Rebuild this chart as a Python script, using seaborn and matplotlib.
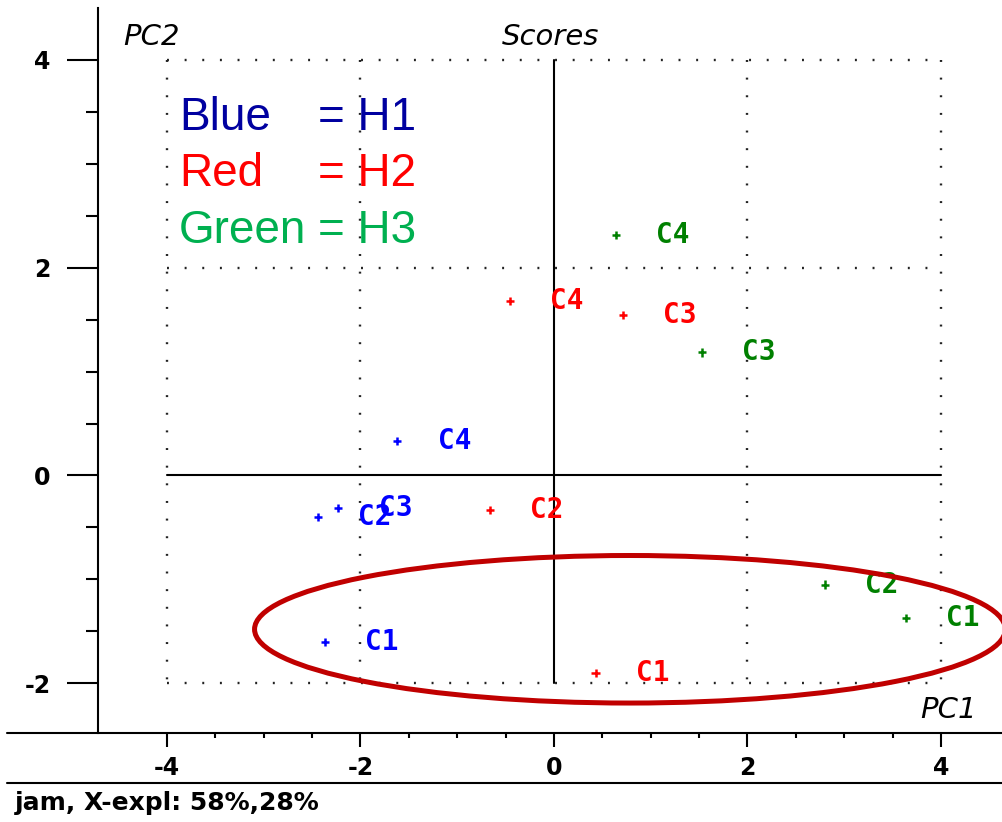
import numpy as np
import pandas as pd
import seaborn as sns
import matplotlib
matplotlib.use("Agg")
import matplotlib.pyplot as plt
from matplotlib.patches import Ellipse
from matplotlib.lines import Line2D
from matplotlib.ticker import FixedLocator

# ---------------- data ----------------
samples = ["C1", "C2", "C3", "C4"]
h1_pc1 = [-2.37, -2.44, -2.23, -1.62]
h1_pc2 = [-1.60, -0.40, -0.31, 0.33]
h2_pc1 = [0.43, -0.66, 0.71, -0.455]
h2_pc2 = [-1.90, -0.33, 1.545, 1.68]
h3_pc1 = [3.64, 2.80, 1.53, 0.64]
h3_pc2 = [-1.37, -1.05, 1.185, 2.315]
groups = ["H1", "H2", "H3"]
x_ticks = [-4, -2, 0, 2, 4]
y_ticks = [-2, 0, 2, 4]
x_tick_labels = ["-4", "-2", "0", "2", "4"]
y_tick_labels = ["-2", "0", "2", "4"]
legend_names = ["Blue", "Red", "Green"]
legend_values = ["= H1", "= H2", "= H3"]

df = pd.DataFrame({
    "PC1": h1_pc1 + h2_pc1 + h3_pc1,
    "PC2": h1_pc2 + h2_pc2 + h3_pc2,
    "group": [groups[0]] * 4 + [groups[1]] * 4 + [groups[2]] * 4,
    "sample": samples * 3,
})

marker_colors = {"H1": "#0000FF", "H2": "#FF0000", "H3": "#008000"}
legend_colors = ["#0000A0", "#FF0000", "#00B050"]

# ---------------- figure ----------------
sns.set_style("white")
plt.rcParams["axes.unicode_minus"] = False
plt.rcParams["lines.scale_dashes"] = False
plt.rcParams["font.family"] = ["DejaVu Sans"]
plt.rcParams["text.color"] = "black"

W, H = 1003, 822
fig = plt.figure(figsize=(W / 100, H / 100), dpi=100)
ax_left, ax_right, ax_bottom, ax_top = 98, 1003, 732.7, 8
ax = fig.add_axes([ax_left / W, 1 - ax_bottom / H,
                   (ax_right - ax_left) / W, (ax_bottom - ax_top) / H])

# pixel mapping: x0 at 554, 96.75 px/unit ; y0 at 475.5, 103.9 px/unit
ax.set_xlim((ax_left - 554) / 96.75, (ax_right - 554) / 96.75)
ax.set_ylim((475.5 - ax_bottom) / 103.9, (475.5 - ax_top) / 103.9)

# dotted grid box
dot_kw = dict(color="#222222", lw=1.7, dashes=(1.4, 11.3), zorder=1)
for yv in [-2, 2, 4]:
    ax.plot([-4, 4], [yv, yv], **dot_kw)
for xv in [-4, -2, 2, 4]:
    ax.plot([xv, xv], [4, -2], **dot_kw)
# solid origin lines
ax.plot([-4, 4], [0, 0], color="black", lw=1.5, zorder=1)
ax.plot([0, 0], [-2, 4], color="black", lw=1.5, zorder=1)

# scatter
sns.scatterplot(data=df, x="PC1", y="PC2", hue="group", palette=marker_colors,
                marker="+", s=36, linewidth=1.8, legend=False, ax=ax, zorder=3)

for _, r in df.iterrows():
    ax.annotate(r["sample"], (r["PC1"], r["PC2"]), xytext=(29, 0),
                textcoords="offset points", ha="left", va="center",
                fontsize=20, fontweight="bold", family="DejaVu Sans Mono",
                color=marker_colors[r["group"]], zorder=4)

# ellipse highlight
ell = Ellipse((0.785, -1.48), width=7.76, height=1.42, angle=0,
              fill=False, edgecolor="#C00000", lw=3.6, zorder=5)
ax.add_patch(ell)

# axes styling
for s in ["top", "right", "bottom"]:
    ax.spines[s].set_visible(False)
ax.spines["left"].set_color("black")
ax.spines["left"].set_linewidth(1.5)

ax.set_xticks(x_ticks)
ax.set_xticklabels(x_tick_labels)
ax.set_yticks(y_ticks)
ax.set_yticklabels(y_tick_labels)
ax.xaxis.set_minor_locator(FixedLocator([v for v in np.arange(-4, 4.01, 0.5) if v not in x_ticks]))
ax.yaxis.set_minor_locator(FixedLocator([v for v in np.arange(-2, 4.01, 0.5) if v not in y_ticks]))
ax.tick_params(axis="x", which="major", direction="out", length=10, width=1.5,
               colors="black", pad=7, labelsize=17, bottom=True)
ax.tick_params(axis="x", which="minor", direction="out", length=3.6, width=1.5,
               colors="black", bottom=True)
ax.tick_params(axis="y", which="major", direction="out", length=22, width=1.5,
               colors="black", pad=12, labelsize=17, left=True)
ax.tick_params(axis="y", which="minor", direction="out", length=8.6, width=1.5,
               colors="black", left=True)
for lab in ax.get_xticklabels() + ax.get_yticklabels():
    lab.set_fontweight("bold")
ax.set_xlabel("")
ax.set_ylabel("")

# figure-wide horizontal lines (bottom axis line and separator)
fig.add_artist(Line2D([7 / W, 1], [1 - ax_bottom / H] * 2, color="black", lw=1.5))
fig.add_artist(Line2D([7 / W, 1], [1 - 783 / H] * 2, color="black", lw=1.5))

# italic labels
def fpx(x, y):
    return x / W, 1 - y / H

fig.text(*fpx(123, 45), "PC2", fontsize=21, style="italic", va="baseline",
         ha="left", color="black")
fig.text(*fpx(502, 45), "Scores", fontsize=21, style="italic", va="baseline",
         ha="left", color="black")
fig.text(*fpx(977, 718), "PC1", fontsize=21, style="italic", va="baseline",
         ha="right", color="black")

# bottom caption
fig.text(*fpx(15, 810), "jam, X-expl: 58%,28%", fontsize=18, fontweight="bold",
         va="baseline", ha="left", color="black")

# colour legend text
baselines = [130, 186.5, 243]
for name, val, col, yb in zip(legend_names, legend_values, legend_colors, baselines):
    fig.text(*fpx(179, yb), name, fontsize=33, color=col, family="Liberation Sans",
             va="baseline", ha="left")
    fig.text(*fpx(318, yb), val, fontsize=33, color=col, family="Liberation Sans",
             va="baseline", ha="left")

fig.savefig("out.png", dpi=100)
